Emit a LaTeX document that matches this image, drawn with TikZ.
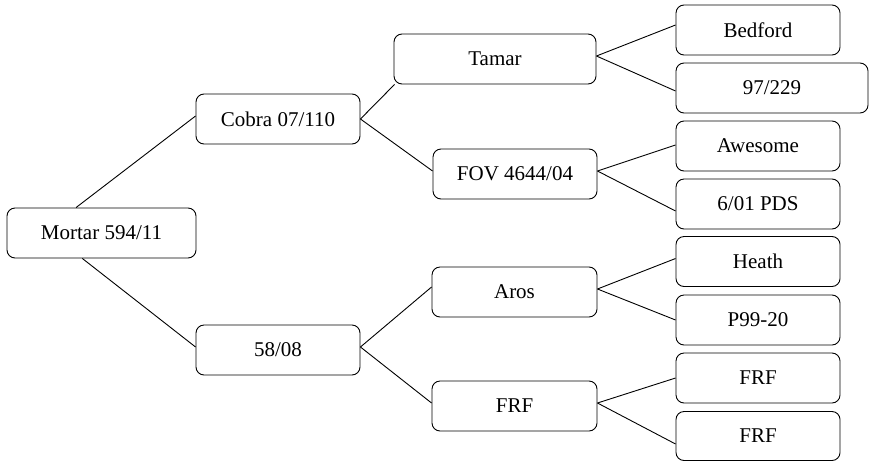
\documentclass[tikz,border=0pt]{standalone}
\usepackage{fontspec}
\setmainfont{Liberation Serif}
\begin{document}
\begin{tikzpicture}[x=1pt,y=-1pt,
  box/.style={draw, rounded corners=8pt, line width=0.9pt, minimum height=50pt,
    inner sep=0pt, font=\fontsize{21}{25}\selectfont},
  link/.style={line width=0.9pt}]
\useasboundingbox (0,0) rectangle (869,461);
\node[box, minimum width=189pt] (mortar) at (101.5,233) {Mortar 594/11};
\node[box, minimum width=164pt] (cobra) at (278,119) {Cobra 07/110};
\node[box, minimum width=164pt] (c5808) at (278,350) {58/08};
\node[box, minimum width=202pt] (tamar) at (495,59) {Tamar};
\node[box, minimum width=164pt] (fov) at (515,174) {FOV 4644/04};
\node[box, minimum width=165pt] (aros) at (514.5,292) {Aros};
\node[box, minimum width=165pt] (frf) at (514.5,406) {FRF};
\node[box, minimum width=164pt] (bedford) at (758,30) {Bedford};
\node[box, minimum width=192pt] (n97) at (772,88) {97/229};
\node[box, minimum width=164pt] (awesome) at (758,146) {Awesome};
\node[box, minimum width=164pt] (pds) at (758,204) {6/01 PDS};
\node[box, minimum width=164pt] (heath) at (758,261.5) {Heath};
\node[box, minimum width=164pt] (p99) at (758,320) {P99-20};
\node[box, minimum width=164pt] (frfa) at (758,378) {FRF};
\node[box, minimum width=164pt, minimum height=49pt] (frfb) at (758,436) {FRF};
\draw[link] (mortar.135) -- ([yshift=3pt]cobra.west);
\draw[link] (mortar.233) -- ([yshift=3pt]c5808.west);
\draw[link] (cobra.east) -- ([xshift=1pt]tamar.south west);
\draw[link] (cobra.east) -- ([yshift=3pt]fov.west);
\draw[link] ([yshift=3pt]c5808.east) -- ([yshift=5pt]aros.west);
\draw[link] ([yshift=3pt]c5808.east) -- ([yshift=3pt]frf.west);
\draw[link] ([yshift=3pt]tamar.east) -- ([yshift=5pt]bedford.west);
\draw[link] ([yshift=3pt]tamar.east) -- ([yshift=-3pt]n97.west);
\draw[link] ([yshift=3pt]fov.east) -- ([yshift=1pt]awesome.west);
\draw[link] ([yshift=3pt]fov.east) -- ([yshift=-7pt]pds.west);
\draw[link] ([yshift=3pt]aros.east) -- ([yshift=3pt]heath.west);
\draw[link] ([yshift=3pt]aros.east) -- (p99.west);
\draw[link] ([yshift=3pt]frf.east) -- (frfa.west);
\draw[link] ([yshift=3pt]frf.east) -- ([yshift=-8pt]frfb.west);
\end{tikzpicture}
\end{document}
